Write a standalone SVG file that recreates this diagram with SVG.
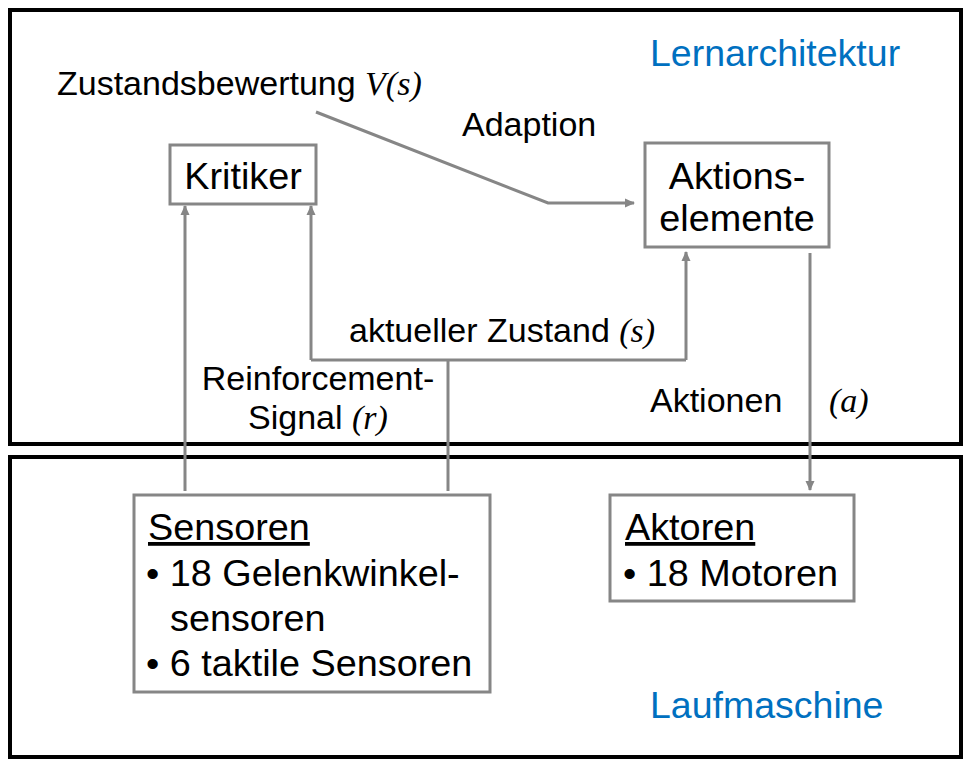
<svg xmlns="http://www.w3.org/2000/svg" width="970" height="766" viewBox="0 0 970 766">
<style>
.frame{fill:none;stroke:#000;stroke-width:4}
.box{fill:#fff;stroke:#868686;stroke-width:3}
.con{fill:none;stroke:#868686;stroke-width:3}
.n{font-family:"Liberation Sans",Arial,sans-serif;font-size:37.8px;fill:#000}
.l{font-family:"Liberation Sans",Arial,sans-serif;font-size:34px;fill:#000}
.b{font-family:"Liberation Sans",Arial,sans-serif;font-size:37.5px;fill:#0070C0}
.m{font-family:"Liberation Serif","Times New Roman",serif;font-style:italic}
</style>
<defs>
<marker id="ah" markerWidth="10" markerHeight="10" refX="9" refY="5" orient="auto" markerUnits="userSpaceOnUse">
<path d="M0,0.5 L10,5 L0,9.5 Z" fill="#868686"/>
</marker>
</defs>
<g id="lernarchitektur">
<rect class="frame" x="10" y="10" width="951" height="434"/>
<text class="b" x="650" y="66">Lernarchitektur</text>
</g>
<g id="laufmaschine">
<rect class="frame" x="10" y="457" width="951" height="300"/>
<text class="b" x="650" y="718">Laufmaschine</text>
</g>
<g id="connectors">
<polyline class="con" points="316,112 548,203 634,203" marker-end="url(#ah)"/>
<polyline class="con" points="185,491 185,206" marker-end="url(#ah)"/>
<polyline class="con" points="448,491 448,360"/>
<polyline class="con" points="311,360 686,360"/>
<polyline class="con" points="311,360 311,206" marker-end="url(#ah)"/>
<polyline class="con" points="686,360 686,252" marker-end="url(#ah)"/>
<polyline class="con" points="810,253 810,490" marker-end="url(#ah)"/>
</g>
<g id="labels">
<text class="l" x="57" y="95">Zustandsbewertung <tspan class="m">V(s)</tspan></text>
<text class="l" x="462" y="136">Adaption</text>
<text class="l" x="349" y="342">aktueller Zustand <tspan class="m">(s)</tspan></text>
<text class="l" x="318" y="390" text-anchor="middle">Reinforcement-</text>
<text class="l" x="318" y="429" text-anchor="middle">Signal <tspan class="m">(r)</tspan></text>
<text class="l" x="650" y="412">Aktionen</text>
<text class="l m" x="829" y="412">(a)</text>
</g>
<g id="kritiker">
<rect class="box" x="170" y="145" width="146" height="59"/>
<text class="n" x="243" y="189" text-anchor="middle">Kritiker</text>
</g>
<g id="aktionselemente">
<rect class="box" x="645" y="143" width="184" height="104"/>
<text class="n" x="737" y="189" text-anchor="middle">Aktions-</text>
<text class="n" x="737" y="231" text-anchor="middle">elemente</text>
</g>
<g id="sensoren">
<rect class="box" x="134" y="495" width="356" height="197"/>
<text class="n" x="148" y="540" text-decoration="underline">Sensoren</text>
<text class="n" x="146" y="586">• 18 Gelenkwinkel-</text>
<text class="n" x="170" y="631">sensoren</text>
<text class="n" x="146" y="676">• 6 taktile Sensoren</text>
</g>
<g id="aktoren">
<rect class="box" x="610" y="495" width="244" height="106"/>
<text class="n" x="625" y="540" text-decoration="underline">Aktoren</text>
<text class="n" x="623" y="586">• 18 Motoren</text>
</g>
</svg>
